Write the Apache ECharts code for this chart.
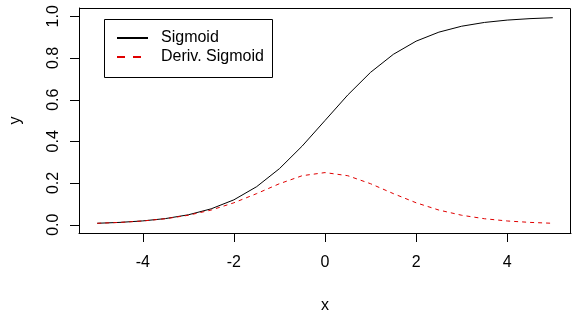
<!DOCTYPE html>
<html>
<head>
<meta charset="utf-8">
<script src="https://cdn.jsdelivr.net/npm/echarts@6/dist/echarts.min.js"></script>
<style>html,body{margin:0;padding:0;background:#fff}#c{width:576px;height:311px}</style>
</head>
<body>
<div id="c"></div>
<script>
const xValues = [-5,-4.5,-4,-3.5,-3,-2.5,-2,-1.5,-1,-0.5,0,0.5,1,1.5,2,2.5,3,3.5,4,4.5,5];
const sigmoid = [0.0067,0.0110,0.0180,0.0293,0.0474,0.0759,0.1192,0.1824,0.2689,0.3775,0.5,0.6225,0.7311,0.8176,0.8808,0.9241,0.9526,0.9707,0.9820,0.9890,0.9933];
const derivSigmoid = [0.0066,0.0109,0.0177,0.0285,0.0452,0.0701,0.1050,0.1491,0.1966,0.2350,0.25,0.2350,0.1966,0.1491,0.1050,0.0701,0.0452,0.0285,0.0177,0.0109,0.0066];
const xTicks = [-4,-2,0,2,4];
const yTicks = [0,0.2,0.4,0.6,0.8,1.0];
const legendNames = ['Sigmoid','Deriv. Sigmoid'];

const font = 'Liberation Sans, Arial, sans-serif';
const fs = 16;
const xMin = -5.4, xMax = 5.4, yMin = -0.04, yMax = 1.04;
const tickLen = 9;

function xTickItem(params, api){
  const p = api.coord([api.value(0), api.value(1)]);
  const x = Math.round(p[0]) + 0.5, y = Math.round(p[1]);
  return {type:'line', shape:{x1:x, y1:y, x2:x, y2:y + tickLen}, style:{stroke:'#000', lineWidth:1, fill:null}};
}
function yTickItem(params, api){
  const p = api.coord([api.value(0), api.value(1)]);
  const x = Math.round(p[0]), y = Math.round(p[1]) + 0.5;
  return {type:'line', shape:{x1:x - tickLen, y1:y, x2:x, y2:y}, style:{stroke:'#000', lineWidth:1, fill:null}};
}

const chart = echarts.init(document.getElementById('c'), null, {renderer:'canvas'});
chart.setOption({
  animation:false,
  backgroundColor:'#fff',
  grid:{left:79,right:5,top:8,bottom:78,show:false,containLabel:false,outerBoundsMode:'none'},
  xAxis:{type:'value',min:xMin,max:xMax,
    name:'x',nameLocation:'middle',nameGap:65,
    nameTextStyle:{fontFamily:font,fontSize:fs,color:'#000'},
    axisLine:{show:true,onZero:false,lineStyle:{color:'#000',width:1}},
    splitLine:{show:false},
    axisTick:{show:false},
    axisLabel:{customValues:xTicks,margin:22,fontFamily:font,fontSize:fs,color:'#000',
      formatter:v=>String(v)}
  },
  yAxis:{type:'value',min:yMin,max:yMax,
    name:'y',nameLocation:'middle',nameGap:55,nameRotate:90,
    nameTextStyle:{fontFamily:font,fontSize:fs,color:'#000'},
    axisLine:{show:true,onZero:false,lineStyle:{color:'#000',width:1}},
    splitLine:{show:false},
    axisTick:{show:false},
    axisLabel:{customValues:yTicks,rotate:90,margin:17,fontFamily:font,fontSize:fs,color:'#000',
      formatter:v=>v.toFixed(1)}
  },
  series:[
    {name:legendNames[0],type:'line',showSymbol:false,symbol:'none',
      data:xValues.map((x,i)=>[x,sigmoid[i]]),
      lineStyle:{color:'#000',width:1}},
    {name:legendNames[1],type:'line',showSymbol:false,symbol:'none',
      data:xValues.map((x,i)=>[x,derivSigmoid[i]]),
      lineStyle:{color:'#e00000',width:1,type:[4,4]}},
    {name:'xTicks',type:'custom',clip:false,silent:true,z:20,
      data:xTicks.map(v=>[v,yMin]),renderItem:xTickItem},
    {name:'yTicks',type:'custom',clip:false,silent:true,z:20,
      data:yTicks.map(v=>[xMin,v]),renderItem:yTickItem}
  ],
  graphic:[
    {type:'rect',shape:{x:79.5,y:8.5,width:491,height:225},style:{fill:'none',stroke:'#000',lineWidth:1},z:50,silent:true},
    {type:'rect',shape:{x:104.5,y:19.5,width:168,height:58},style:{fill:'#fff',stroke:'#000',lineWidth:1},z:100},
    {type:'line',shape:{x1:117,y1:38,x2:148,y2:38},style:{stroke:'#000',lineWidth:2},z:101},
    {type:'line',shape:{x1:117,y1:57,x2:148,y2:57},style:{stroke:'#e00000',lineWidth:2,lineDash:[8,8]},z:101},
    {type:'text',x:161,y:38,style:{text:legendNames[0],font:fs+'px '+font,fill:'#000',textVerticalAlign:'middle'},z:101},
    {type:'text',x:161,y:57,style:{text:legendNames[1],font:fs+'px '+font,fill:'#000',textVerticalAlign:'middle'},z:101}
  ]
});
</script>
</body>
</html>
